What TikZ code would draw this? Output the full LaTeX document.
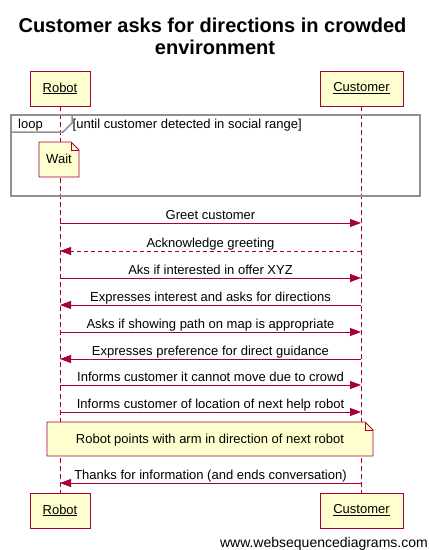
\documentclass[tikz,border=0pt]{standalone}
\usepackage{fontspec}
\setmainfont{Liberation Sans}
\usetikzlibrary{arrows.meta}
\definecolor{wsdred}{HTML}{A80036}
\definecolor{wsdfill}{HTML}{FEFECE}
\definecolor{wsdgray}{HTML}{909090}
\tikzset{
  actor/.style={draw=wsdred,fill=wsdfill,line width=0.8pt,minimum height=35pt,inner sep=0pt,font=\fontsize{13}{15}\selectfont},
  lifeline/.style={draw=wsdred,line width=0.8pt,dash pattern=on 5pt off 3pt},
  msg/.style={draw=wsdred,line width=0.8pt,-{Triangle[length=11pt,width=8pt]}},
  reply/.style={msg,dash pattern=on 4pt off 3pt},
  msgtext/.style={text=black,anchor=base,inner sep=0pt,font=\fontsize{13}{15}\selectfont},
  notebox/.style={draw=wsdred,fill=wsdfill,line width=0.8pt}
}
\begin{document}
\begin{tikzpicture}[x=1pt,y=-1pt]
\useasboundingbox (0,0) rectangle (429,550);
\path (212.5,32) node[anchor=base,font=\fontsize{20}{22}\bfseries] (title1) {Customer asks for directions in crowded};
\path (215,54) node[anchor=base,font=\fontsize{20}{22}\bfseries] (title2) {environment};
% participants
\node[actor,minimum width=60pt] (robot-top) at (60,88.5) {\underline{Robot}};
\node[actor,minimum width=83pt] (customer-top) at (361.5,88.5) {\underline{Customer}};
\node[actor,minimum width=60pt] (robot-bot) at (60,510.5) {\underline{Robot}};
\node[actor,minimum width=83pt] (customer-bot) at (361.5,510.5) {\underline{Customer}};
\draw[lifeline] (robot-top.south) -- (robot-bot.north);
\draw[lifeline] (customer-top.south) -- (customer-bot.north);
% loop frame
\draw[wsdgray,line width=2pt] (11,115) rectangle (420,196);
\draw[wsdgray,line width=1.5pt] (11,132) -- (63,132) -- (72,123) -- (72,115);
\path (18,128) node[msgtext,anchor=base west] (loop) {loop};
\path (72.5,128) node[msgtext,anchor=base west] (guard) {[until customer detected in social range]};
% note Wait
\draw[notebox] (39,142) -- (71,142) -- (79,150) -- (79,177) -- (39,177) -- cycle;
\draw[wsdred,line width=0.8pt] (71,142) -- (71,150) -- (79,150);
\path (59,163) node[msgtext] (wait) {Wait};
% messages
\coordinate (r1) at (60,223); \coordinate (c1) at (361,223);
\coordinate (r2) at (60,251); \coordinate (c2) at (361,251);
\coordinate (r3) at (60,278); \coordinate (c3) at (361,278);
\coordinate (r4) at (60,305); \coordinate (c4) at (361,305);
\coordinate (r5) at (60,332); \coordinate (c5) at (361,332);
\coordinate (r6) at (60,359); \coordinate (c6) at (361,359);
\coordinate (r7) at (60,385); \coordinate (c7) at (361,385);
\coordinate (r8) at (60,412); \coordinate (c8) at (361,412);
\coordinate (r9) at (60,483); \coordinate (c9) at (361,483);
\draw[msg] (r1) -- (c1);
\path (210.5,219) node[msgtext] {Greet customer};
\draw[reply] (c2) -- (r2);
\path (210.5,247) node[msgtext] {Acknowledge greeting};
\draw[msg] (r3) -- (c3);
\path (210.5,274) node[msgtext] {Aks if interested in offer XYZ};
\draw[msg] (c4) -- (r4);
\path (210.5,301) node[msgtext] {Expresses interest and asks for directions};
\draw[msg] (r5) -- (c5);
\path (210.5,328) node[msgtext] {Asks if showing path on map is appropriate};
\draw[msg] (c6) -- (r6);
\path (210.5,355) node[msgtext] {Expresses preference for direct guidance};
\draw[msg] (r7) -- (c7);
\path (210.5,381) node[msgtext] {Informs customer it cannot move due to crowd};
\draw[msg] (r8) -- (c8);
\path (210.5,408) node[msgtext] {Informs customer of location of next help robot};
% note pointing
\draw[notebox] (47,422) -- (365,422) -- (373,430) -- (373,456) -- (47,456) -- cycle;
\draw[wsdred,line width=0.8pt] (365,422) -- (365,430) -- (373,430);
\path (210,443) node[msgtext] (point) {Robot points with arm in direction of next robot};
\draw[msg] (c9) -- (r9);
\path (210.5,479) node[msgtext] {Thanks for information (and ends conversation)};
\path (428,547) node[msgtext,anchor=base east,font=\fontsize{14}{16}\selectfont] (wsd) {www.websequencediagrams.com};
\end{tikzpicture}
\end{document}
